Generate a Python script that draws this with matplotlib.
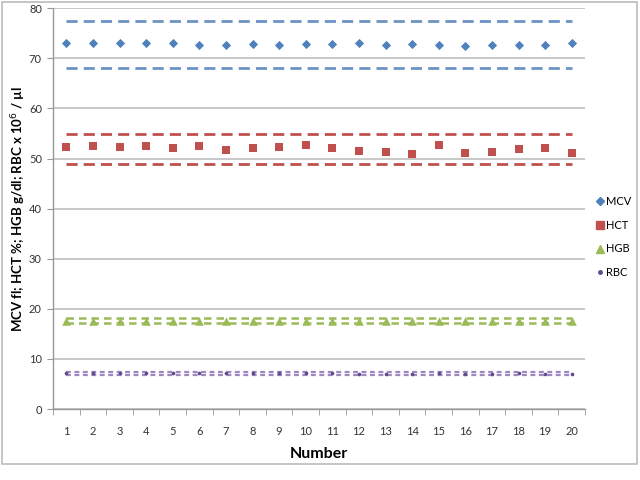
import matplotlib
matplotlib.use("Agg")
import matplotlib.pyplot as plt
from matplotlib.patches import Rectangle
from matplotlib.lines import Line2D

plt.rcParams['font.family'] = ['Lato', 'DejaVu Sans']

numbers = list(range(1, 21))
mcv = [73.0, 73.0, 73.0, 73.0, 73.0, 72.7, 72.7, 72.9, 72.6, 72.8,
       72.8, 73.0, 72.7, 72.9, 72.7, 72.5, 72.7, 72.6, 72.7, 73.0]
hct = [52.3, 52.5, 52.3, 52.6, 52.1, 52.6, 51.7, 52.2, 52.3, 52.8,
       52.1, 51.5, 51.3, 51.0, 52.8, 51.2, 51.3, 52.0, 52.2, 51.2]
hgb = [17.5, 17.5, 17.5, 17.5, 17.5, 17.5, 17.6, 17.5, 17.5, 17.5,
       17.5, 17.5, 17.5, 17.5, 17.5, 17.5, 17.5, 17.5, 17.5, 17.5]
rbc = [7.1, 7.1, 7.1, 7.1, 7.1, 7.1, 7.1, 7.1, 7.1, 7.1,
       7.1, 7.0, 7.0, 7.0, 7.1, 7.0, 7.0, 7.1, 7.0, 7.0]
mcv_limits = [77.5, 68.1]
hct_limits = [55.0, 49.0]
hgb_limits = [18.1, 17.1]
rbc_limits = [7.3, 6.8]
yticks = [0, 10, 20, 30, 40, 50, 60, 70, 80]

fig = plt.figure(figsize=(6.4, 4.8), dpi=100)
fig.patches.append(Rectangle((2/640, 1-464/480), 635/640, 462/480,
                             transform=fig.transFigure, fill=False,
                             edgecolor='#BBBBBB', linewidth=1.2))
ax = fig.add_axes([53/640, 1-409/480, 532/640, 400.7/480])

c_mcv, c_mcv_l = '#4F81BD', '#6C93C4'
c_hct = '#C0504D'
c_hgb = '#9BBB59'
c_rbc, c_rbc_l = '#5F4B8B', '#9E86C0'

x0, x1 = numbers[0], numbers[-1]
for v in mcv_limits:
    ax.plot([x0, x1], [v, v], color=c_mcv_l, lw=2, dashes=(4, 2.2), zorder=2)
for v in hct_limits:
    ax.plot([x0, x1], [v, v], color=c_hct, lw=2, dashes=(4, 2.2), zorder=2)
for v in hgb_limits:
    ax.plot([x0, x1], [v, v], color=c_hgb, lw=1.8, dashes=(3, 2), zorder=2)
for v in rbc_limits:
    ax.plot([x0, x1], [v, v], color=c_rbc_l, lw=1.6, dashes=(2.2, 1.6), zorder=2)

ax.scatter(numbers, mcv, marker='D', s=22, color=c_mcv, zorder=3, linewidths=0)
ax.scatter(numbers, hct, marker='s', s=40, color=c_hct, zorder=3, linewidths=0)
ax.scatter(numbers, hgb, marker='^', s=38, color=c_hgb, zorder=3, linewidths=0)
ax.scatter(numbers, rbc, marker='o', s=7, color=c_rbc, zorder=3, linewidths=0)

ax.set_xlim(0.5, 20.5)
ax.set_ylim(0, 80)
ax.set_yticks(yticks)
ax.set_xticks(numbers)
ax.set_xticks([n + 0.5 for n in [0] + numbers], minor=True)
ax.tick_params(axis='x', which='major', length=0, pad=12, labelsize=8, colors='#333333')
ax.tick_params(axis='x', which='minor', length=4, color='#999999', direction='out')
ax.tick_params(axis='y', length=4, color='#999999', labelsize=8, colors='#333333', pad=4)
ax.yaxis.grid(True, color='#BFBFBF', lw=1.2)
ax.set_axisbelow(True)
for s in ['top', 'right']:
    ax.spines[s].set_visible(False)
for s in ['left', 'bottom']:
    ax.spines[s].set_color('#999999')
    ax.spines[s].set_linewidth(1)

ax.set_xlabel('Number', fontsize=11.5, fontweight='bold')
ax.xaxis.set_label_coords(0.5, -(447 - 409) / 400.7)
ax.set_ylabel('MCV fl; HCT %; HGB g/dl; RBC x 10$^{6}$ / µl', fontsize=9.5,
              fontweight='bold', va='center')
ax.yaxis.set_label_coords(-(53 - 19) / 532, 0.5)

handles = [
    Line2D([], [], marker='D', ls='', color=c_mcv, markersize=4.5),
    Line2D([], [], marker='s', ls='', color=c_hct, markersize=6),
    Line2D([], [], marker='^', ls='', color=c_hgb, markersize=6),
    Line2D([], [], marker='o', ls='', color=c_rbc, markersize=2.5),
]
leg = fig.legend(handles, ['MCV', 'HCT', 'HGB', 'RBC'], loc='center left',
                 bbox_to_anchor=(588/640, 1-237/480), frameon=False,
                 fontsize=8, handlelength=0.7, handletextpad=0.25,
                 labelspacing=1.15, borderpad=0.2)

fig.savefig('out.png', dpi=100)
